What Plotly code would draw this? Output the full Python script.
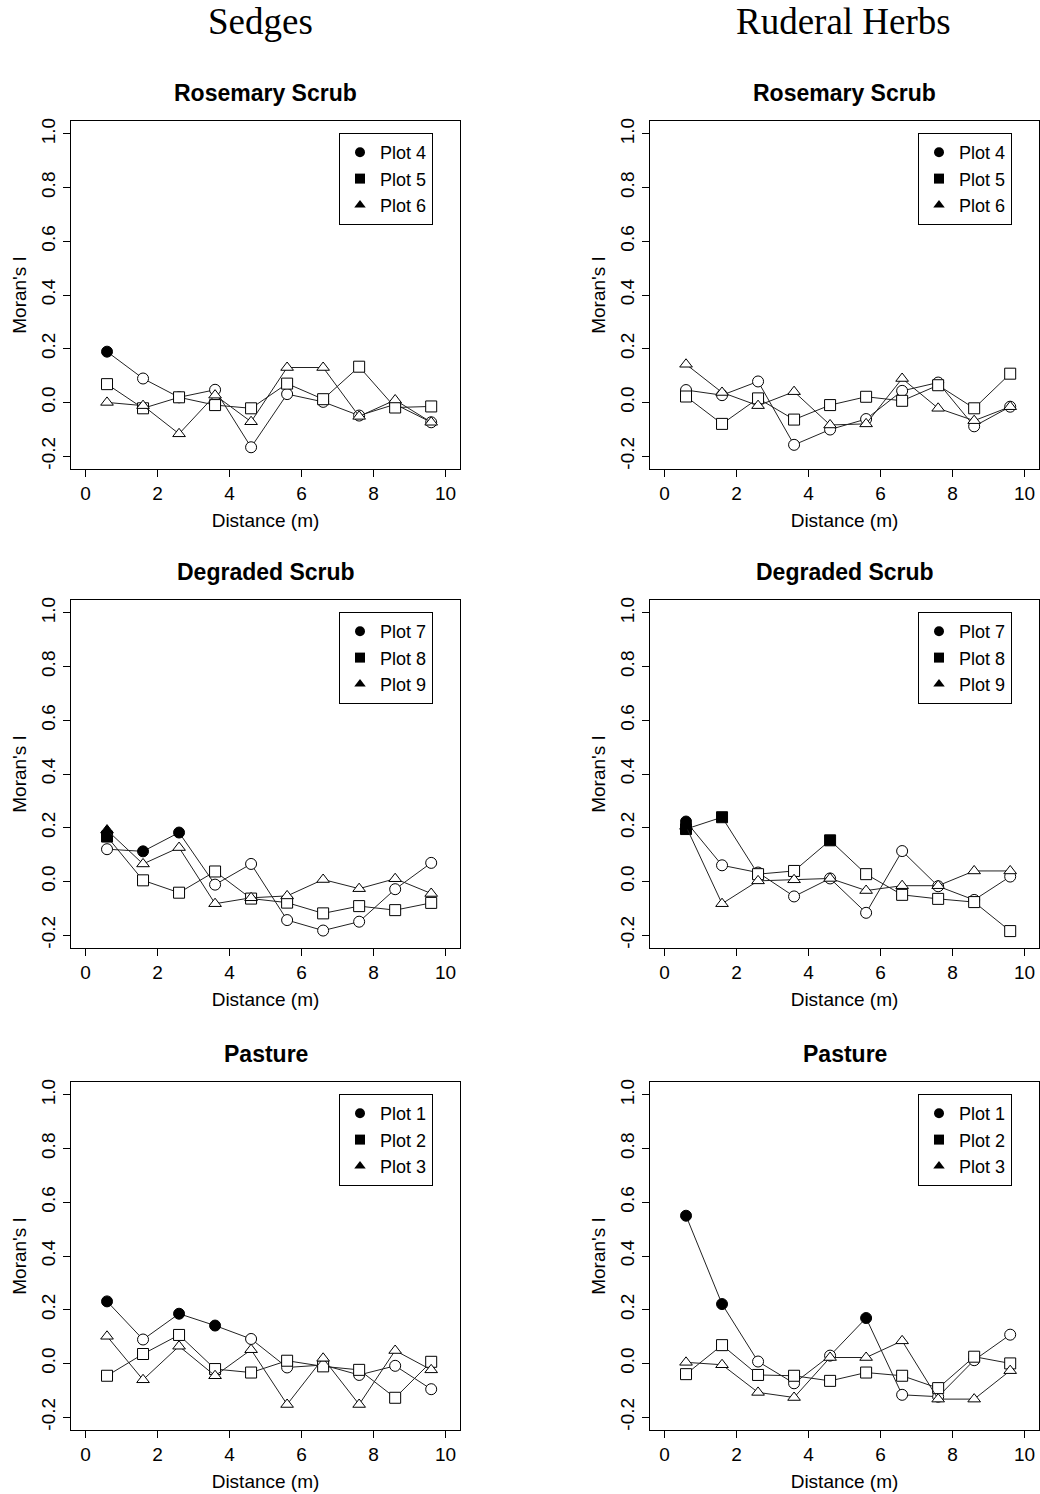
import plotly.graph_objects as go

# ---------------- data ----------------
distance = [0.6, 1.6, 2.6, 3.6, 4.6, 5.6, 6.6, 7.6, 8.6, 9.6]
x_ticks = [0, 2, 4, 6, 8, 10]
y_ticks = [-0.2, 0.0, 0.2, 0.4, 0.6, 0.8, 1.0]
y_tick_text = ["-0.2", "0.0", "0.2", "0.4", "0.6", "0.8", "1.0"]

column_titles = ["Sedges", "Ruderal Herbs"]
panel_titles = ["Rosemary Scrub", "Degraded Scrub", "Pasture"]

# Sedges - Rosemary Scrub (Plots 4, 5, 6)
sed_ros_p4 = [0.189, 0.089, 0.019, 0.047, -0.167, 0.031, 0.002, -0.049, -0.007, -0.074]
sed_ros_p5 = [0.068, -0.022, 0.019, -0.010, -0.022, 0.070, 0.012, 0.133, -0.019, -0.015]
sed_ros_p6 = [0.000, -0.012, -0.117, 0.027, -0.072, 0.130, 0.130, -0.052, 0.009, -0.074]
sed_ros_p4_sig = [1, 0, 0, 0, 0, 0, 0, 0, 0, 0]
sed_ros_p5_sig = [0, 0, 0, 0, 0, 0, 0, 0, 0, 0]
sed_ros_p6_sig = [0, 0, 0, 0, 0, 0, 0, 0, 0, 0]

# Ruderal Herbs - Rosemary Scrub (Plots 4, 5, 6)
rud_ros_p4 = [0.046, 0.027, 0.078, -0.158, -0.101, -0.062, 0.043, 0.074, -0.089, -0.016]
rud_ros_p5 = [0.022, -0.080, 0.015, -0.064, -0.010, 0.021, 0.006, 0.064, -0.022, 0.107]
rud_ros_p6 = [0.142, 0.037, -0.012, 0.040, -0.084, -0.080, 0.089, -0.022, -0.068, -0.016]
rud_ros_p4_sig = [0, 0, 0, 0, 0, 0, 0, 0, 0, 0]
rud_ros_p5_sig = [0, 0, 0, 0, 0, 0, 0, 0, 0, 0]
rud_ros_p6_sig = [0, 0, 0, 0, 0, 0, 0, 0, 0, 0]

# Sedges - Degraded Scrub (Plots 7, 8, 9)
sed_deg_p7 = [0.120, 0.112, 0.182, -0.012, 0.065, -0.144, -0.183, -0.150, -0.029, 0.069]
sed_deg_p8 = [0.167, 0.004, -0.042, 0.037, -0.064, -0.079, -0.119, -0.092, -0.107, -0.080]
sed_deg_p9 = [0.191, 0.065, 0.126, -0.083, -0.061, -0.054, 0.007, -0.027, 0.010, -0.045]
sed_deg_p7_sig = [0, 1, 1, 0, 0, 0, 0, 0, 0, 0]
sed_deg_p8_sig = [1, 0, 0, 0, 0, 0, 0, 0, 0, 0]
sed_deg_p9_sig = [1, 0, 0, 0, 0, 0, 0, 0, 0, 0]

# Ruderal Herbs - Degraded Scrub (Plots 7, 8, 9)
rud_deg_p7 = [0.223, 0.060, 0.033, -0.056, 0.011, -0.117, 0.113, -0.018, -0.069, 0.018]
rud_deg_p8 = [0.195, 0.239, 0.027, 0.039, 0.153, 0.027, -0.050, -0.065, -0.077, -0.185]
rud_deg_p9 = [0.205, -0.083, 0.002, 0.006, 0.011, -0.034, -0.016, -0.016, 0.039, 0.039]
rud_deg_p7_sig = [1, 0, 0, 0, 0, 0, 0, 0, 0, 0]
rud_deg_p8_sig = [1, 1, 0, 0, 1, 0, 0, 0, 0, 0]
rud_deg_p9_sig = [1, 0, 0, 0, 0, 0, 0, 0, 0, 0]

# Sedges - Pasture (Plots 1, 2, 3)
sed_pas_p1 = [0.231, 0.089, 0.185, 0.141, 0.091, -0.015, -0.006, -0.043, -0.009, -0.096]
sed_pas_p2 = [-0.046, 0.035, 0.106, -0.021, -0.034, 0.010, -0.011, -0.024, -0.128, 0.006]
sed_pas_p3 = [0.101, -0.061, 0.064, -0.046, 0.051, -0.153, 0.019, -0.153, 0.048, -0.024]
sed_pas_p1_sig = [1, 0, 1, 1, 0, 0, 0, 0, 0, 0]
sed_pas_p2_sig = [0, 0, 0, 0, 0, 0, 0, 0, 0, 0]
sed_pas_p3_sig = [0, 0, 0, 0, 0, 0, 0, 0, 0, 0]

# Ruderal Herbs - Pasture (Plots 1, 2, 3)
rud_pas_p1 = [0.550, 0.221, 0.007, -0.074, 0.029, 0.169, -0.117, -0.124, 0.012, 0.107]
rud_pas_p2 = [-0.040, 0.068, -0.043, -0.046, -0.065, -0.034, -0.046, -0.092, 0.025, 0.000]
rud_pas_p3 = [0.004, -0.005, -0.108, -0.127, 0.022, 0.022, 0.084, -0.133, -0.133, -0.027]
rud_pas_p1_sig = [1, 1, 0, 0, 0, 1, 0, 0, 0, 0]
rud_pas_p2_sig = [0, 0, 0, 0, 0, 0, 0, 0, 0, 0]
rud_pas_p3_sig = [0, 0, 0, 0, 0, 0, 0, 0, 0, 0]

legend_names_ros = ["Plot 4", "Plot 5", "Plot 6"]
legend_names_deg = ["Plot 7", "Plot 8", "Plot 9"]
legend_names_pas = ["Plot 1", "Plot 2", "Plot 3"]

# ---------------- layout geometry ----------------
W, H = 1040, 1494
col_px = [(71, 460), (650, 1039)]
row_px = [(121, 469), (600, 948), (1082, 1430)]
symbols = ["circle", "square", "triangle-up"]

panels = [
    (0, 0, panel_titles[0], [sed_ros_p4, sed_ros_p5, sed_ros_p6],
     [sed_ros_p4_sig, sed_ros_p5_sig, sed_ros_p6_sig], legend_names_ros),
    (0, 1, panel_titles[0], [rud_ros_p4, rud_ros_p5, rud_ros_p6],
     [rud_ros_p4_sig, rud_ros_p5_sig, rud_ros_p6_sig], legend_names_ros),
    (1, 0, panel_titles[1], [sed_deg_p7, sed_deg_p8, sed_deg_p9],
     [sed_deg_p7_sig, sed_deg_p8_sig, sed_deg_p9_sig], legend_names_deg),
    (1, 1, panel_titles[1], [rud_deg_p7, rud_deg_p8, rud_deg_p9],
     [rud_deg_p7_sig, rud_deg_p8_sig, rud_deg_p9_sig], legend_names_deg),
    (2, 0, panel_titles[2], [sed_pas_p1, sed_pas_p2, sed_pas_p3],
     [sed_pas_p1_sig, sed_pas_p2_sig, sed_pas_p3_sig], legend_names_pas),
    (2, 1, panel_titles[2], [rud_pas_p1, rud_pas_p2, rud_pas_p3],
     [rud_pas_p1_sig, rud_pas_p2_sig, rud_pas_p3_sig], legend_names_pas),
]

FONT = "Liberation Sans, Arial, sans-serif"
fig = go.Figure()
layout = dict(
    width=W, height=H, margin=dict(l=0, r=0, t=0, b=0),
    paper_bgcolor="white", plot_bgcolor="white",
    font=dict(family=FONT, size=19, color="black"),
    showlegend=True,
)
annotations = []

for i, (r, c, title, series, sigs, names) in enumerate(panels):
    k = i + 1
    xa = "x" if k == 1 else f"x{k}"
    ya = "y" if k == 1 else f"y{k}"
    lg = "legend" if k == 1 else f"legend{k}"
    x0, x1 = col_px[c]
    y0, y1 = row_px[r]
    layout["xaxis" if k == 1 else f"xaxis{k}"] = dict(
        domain=[x0 / W, x1 / W], anchor=ya, range=[-0.4, 10.4],
        tickmode="array", tickvals=x_ticks, ticks="outside", ticklen=7,
        tickcolor="black", showline=True, mirror=True, linecolor="black",
        linewidth=1, showgrid=False, zeroline=False,
        tickfont=dict(size=19, family=FONT),
        title=dict(text="Distance (m)", font=dict(size=19, family=FONT), standoff=10),
        automargin=False,
    )
    layout["yaxis" if k == 1 else f"yaxis{k}"] = dict(
        domain=[1 - y1 / H, 1 - y0 / H], anchor=xa, range=[-0.248, 1.048],
        tickmode="array", tickvals=y_ticks, ticktext=y_tick_text,
        tickangle=-90, ticks="outside", ticklen=7, tickcolor="black",
        showline=True, mirror=True, linecolor="black", linewidth=1,
        showgrid=False, zeroline=False, tickfont=dict(size=19, family=FONT),
        title=dict(text="Moran's I", font=dict(size=19, family=FONT), standoff=6),
        automargin=False,
    )
    layout[lg] = dict(
        x=(x1 - 27) / W, xanchor="right", y=1 - (y0 + 12) / H, yanchor="top",
        bordercolor="black", borderwidth=1, bgcolor="white",
        font=dict(size=18, family=FONT), tracegroupgap=0, itemsizing="trace",
    )
    for s, (vals, sig) in enumerate(zip(series, sigs)):
        fig.add_trace(go.Scatter(
            x=distance, y=vals, mode="lines+markers", xaxis=xa, yaxis=ya,
            line=dict(color="#222222", width=1),
            marker=dict(symbol=symbols[s], size=11,
                        color=["black" if f else "white" for f in sig],
                        line=dict(color="black", width=1)),
            showlegend=False, hoverinfo="skip",
        ))
    for s, nm in enumerate(names):
        fig.add_trace(go.Scatter(
            x=[None], y=[None], mode="markers", xaxis=xa, yaxis=ya, name=nm,
            marker=dict(symbol=symbols[s], size=10, color="black"),
            legend=lg, showlegend=True,
        ))
    annotations.append(dict(
        text=f"<b>{title}</b>", xref=f"{xa} domain", yref=f"{ya} domain",
        x=0.5, y=1, yshift=28, xanchor="center", yanchor="middle",
        showarrow=False, font=dict(size=23, family=FONT, color="black"),
    ))

SERIF = "Liberation Serif, Times New Roman, serif"
annotations.append(dict(text=column_titles[0], xref="paper", yref="paper",
                        x=260 / W, y=1 - 22 / H, xanchor="center", yanchor="middle",
                        showarrow=False, font=dict(size=37, family=SERIF)))
annotations.append(dict(text=column_titles[1], xref="paper", yref="paper",
                        x=843 / W, y=1 - 22 / H, xanchor="center", yanchor="middle",
                        showarrow=False, font=dict(size=37, family=SERIF)))
layout["annotations"] = annotations
fig.update_layout(**layout)
fig.write_html("out.html")
